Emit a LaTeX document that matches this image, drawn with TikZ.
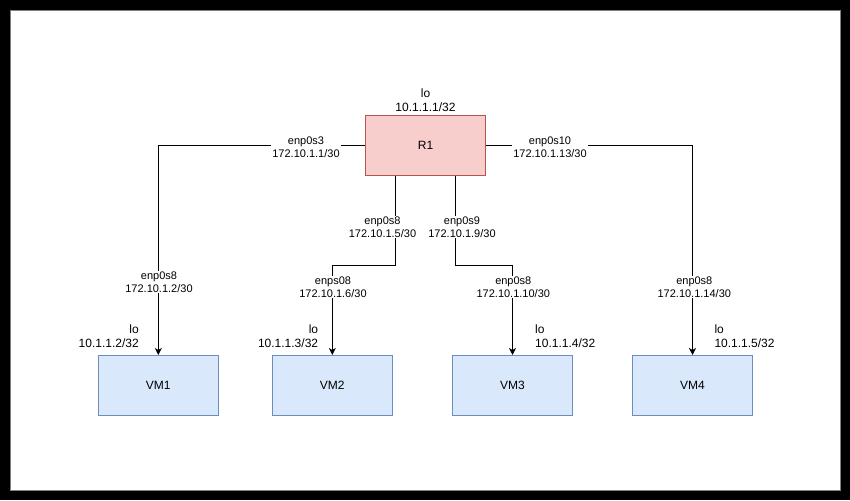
\documentclass[tikz,border=0pt]{standalone}
\usepackage{fontspec}
\setmainfont{Liberation Sans}
\usepackage{tikz}
\usetikzlibrary{positioning, arrows.meta}
\definecolor{rfill}{HTML}{F8CECC}
\definecolor{rline}{HTML}{B85450}
\definecolor{vfill}{HTML}{DAE8FC}
\definecolor{vline}{HTML}{6C8EBF}
\tikzstyle{link} = [line width=1pt]
\tikzstyle{arrow} = [line width=1pt,-{Stealth[length=7pt,width=7pt,inset=2pt]}]
\tikzstyle{iface} = [fill=white, align=center, inner sep=1pt, font=\fontsize{11}{12.5}\selectfont]

\begin{document}
\begin{tikzpicture}[x=1pt, y=-1pt,
routernode/.style={rectangle, draw=rline, fill=rfill, line width=1pt, minimum width=120pt, minimum height=60pt, font=\fontsize{12}{14}\selectfont},
vmnode/.style={rectangle, draw=vline, fill=vfill, line width=1pt, minimum width=120pt, minimum height=60pt, font=\fontsize{12}{14}\selectfont},
lonode/.style={inner sep=1pt, font=\fontsize{12}{14}\selectfont}
]
% frame
\fill[black] (0,0) rectangle (850,500);
\fill[white, draw=gray, line width=0.8pt] (10,10) rectangle (840,490);

\node[routernode] (R1) at (425.5,145.5) {R1};
\node[lonode, align=center] (loR1) [above=2pt of R1] {lo\\10.1.1.1/32};

\node[vmnode] (VM1) at (158.3,385.5) {VM1};
\node[vmnode] (VM2) at (332.3,385.5) {VM2};
\node[vmnode] (VM3) at (512.5,385.5) {VM3};
\node[vmnode] (VM4) at (692.5,385.5) {VM4};

\draw[arrow] (R1.west) -| (VM1.north);
\draw[arrow] ([xshift=-30pt]R1.south) -- ++(0,89.5) -| (VM2.north);
\draw[arrow] ([xshift=30pt]R1.south) -- ++(0,89.5) -| (VM3.north);
\draw[arrow] (R1.east) -| (VM4.north);

% interface labels
\node[iface] (e3)  at (306,147)   {enp0s3\\172.10.1.1/30};
\node[iface] (e10) at (550,147)   {enp0s10\\172.10.1.13/30};
\node[iface] (e8)  at (382.5,227) {enp0s8\\172.10.1.5/30};
\node[iface] (e9)  at (462,227)   {enp0s9\\172.10.1.9/30};
\node[iface] (v1)  at (159,282)   {enp0s8\\172.10.1.2/30};
\node[iface] (v2)  at (333,287)   {enps08\\172.10.1.6/30};
\node[iface] (v3)  at (513.3,287) {enp0s8\\172.10.1.10/30};
\node[iface] (v4)  at (694.3,287) {enp0s8\\172.10.1.14/30};

% loopbacks
\node[lonode, align=right, anchor=east] (lo1) at (140,336) {lo\\10.1.1.2/32};
\node[lonode, align=right, anchor=east] (lo2) at (319.3,336) {lo\\10.1.1.3/32};
\node[lonode, align=left, anchor=west]  (lo3) at (534,336) {lo\\10.1.1.4/32};
\node[lonode, align=left, anchor=west]  (lo4) at (713.3,336) {lo\\10.1.1.5/32};
\end{tikzpicture}
\end{document}
